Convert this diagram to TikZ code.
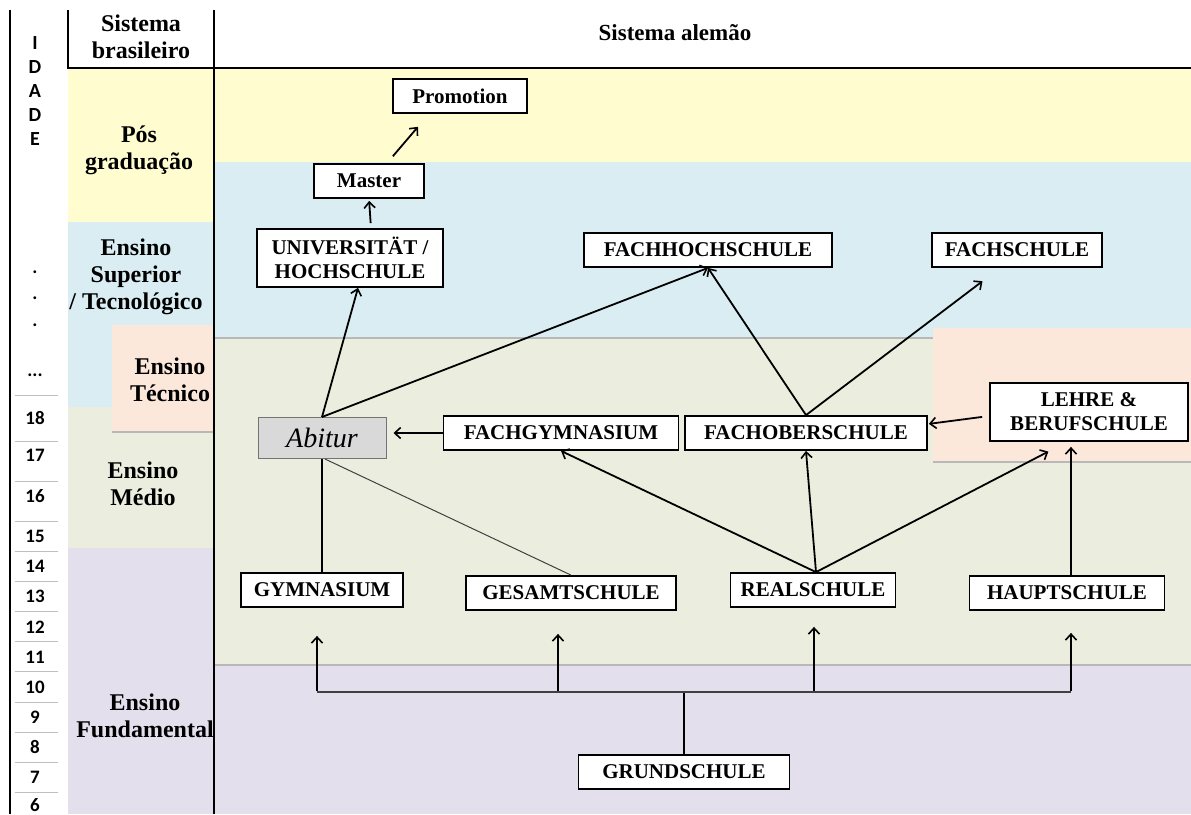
\documentclass[tikz,border=0pt]{standalone}
\usepackage{fontspec}
\setmainfont{Liberation Serif}
\newfontfamily\agefont{Carlito}
\usetikzlibrary{arrows.meta,calc}
\definecolor{cyel}{HTML}{FFFDD0}
\definecolor{cblu}{HTML}{DAEDF3}
\definecolor{cgrn}{HTML}{EBEEDE}
\definecolor{cpur}{HTML}{E4DFEC}
\definecolor{cpch}{HTML}{FCE8DA}
\definecolor{cabi}{HTML}{D9D9D9}
\tikzset{
  box/.style={draw=black, line width=1.8pt, fill=white, inner sep=0pt,
    minimum height=34pt, font=\fontsize{21}{24}\selectfont\bfseries, align=center},
  lbl/.style={inner sep=0pt, font=\fontsize{24}{27}\selectfont\bfseries, align=center},
  hlbl/.style={inner sep=0pt, font=\fontsize{23}{26}\selectfont\bfseries, align=center},
  agel/.style={inner sep=0pt, font=\agefont\bfseries\fontsize{19}{22}\selectfont},
  arr/.style={line width=1.8pt, -{Straight Barb[length=6pt,width=11pt,line width=1.6pt]}},
  link/.style={line width=1.8pt},
  thin/.style={line width=1pt, draw=black!75},
  shade/.style={line width=1.5pt, draw=black!28},
  sep/.style={line width=0.8pt, draw=black!25}
}
\begin{document}
\begin{tikzpicture}[x=1pt,y=-1pt]
\useasboundingbox (0,0) rectangle (1191,814);
% bands left column
\fill[cyel] (68,68) rectangle (214,222);
\fill[cblu] (68,222) rectangle (214,407);
\fill[cgrn] (68,407) rectangle (214,548);
\fill[cpur] (68,548) rectangle (214,814);
\fill[cpch] (112,325) rectangle (214,432);
\draw[shade] (112,432) -- (214,432);
% bands right part
\fill[cyel] (214,68) rectangle (1191,162);
\fill[cblu] (214,162) rectangle (1191,338);
\fill[cgrn] (214,338) rectangle (1191,665);
\fill[cpur] (214,665) rectangle (1191,814);
\draw[shade] (214,338) -- (933,338);
\draw[shade] (214,665) -- (1191,665);
\fill[cpch] (933,328) rectangle (1191,462);
\draw[shade] (933,462) -- (1191,462);
% frame lines
\draw[line width=1.5pt] (10,10) -- (10,814);
\draw[line width=2pt] (68,10) -- (68,68) -- (1191,68);
\draw[line width=2pt] (214,10) -- (214,814);
% headers
\node[lbl] (hbr) at (141,37) {Sistema\\brasileiro};
\node[hlbl] (hde) at (675,33) {Sistema alemão};
% age column
\foreach \t/\y in {I/43,D/67,A/91,D/115,E/139}
  \node[agel, font=\agefont\bfseries\fontsize{20}{22}\selectfont] at (35,\y) {\t};
\foreach \y in {272,298,325}
  \node[agel] at (35,\y) {.};
\node[agel] at (35,375) {...};
\foreach \y in {395,441,481,521,551,581,611,641,671,702,732,762,792}
  \draw[sep] (15,\y) -- (58,\y);
\foreach \t/\y in {18/418,17/455,16/496,15/536,14/566,13/596,12/627,11/657,10/687,9/717,8/747,7/777,6/805}
  \node[agel] at (35,\y) {\t};
% left labels
\node[lbl] (lpos) at (139,150) {Pós\\graduação};
\node[lbl] (lsup) at (136,277) {Ensino\\Superior\\/ Tecnológico};
\node[lbl] (ltec) at (170,380) {Ensino\\Técnico};
\node[lbl] (lmed) at (143,484) {Ensino\\Médio};
\node[lbl] (lfun) at (145,716) {Ensino\\Fundamental};
% boxes
\node[box, minimum width=134pt] (prom) at (460,96) {Promotion};
\node[box, minimum width=110pt] (mast) at (369,181) {Master};
\node[box, minimum width=186pt, minimum height=58pt] (univ) at (350,258) {UNIVERSITÄT /\\HOCHSCHULE};
\node[box, minimum width=248pt] (fhs) at (708,250) {FACHHOCHSCHULE};
\node[box, minimum width=170pt] (fs) at (1017,250) {FACHSCHULE};
\node[draw=black!55, line width=1pt, fill=cabi, minimum width=128pt, minimum height=41pt, inner sep=0pt,
  font=\fontsize{28}{30}\selectfont\itshape] (abi) at (322,438) {Abitur};
\node[box, minimum width=235pt] (fgy) at (561,433) {FACHGYMNASIUM};
\node[box, minimum width=242pt] (fos) at (806,433) {FACHOBERSCHULE};
\node[box, minimum width=198pt, minimum height=58pt] (lehre) at (1089,412) {LEHRE \&\\BERUFSCHULE};
\node[box, minimum width=162pt] (gym) at (322,590) {GYMNASIUM};
\node[box, minimum width=210pt] (ges) at (571,593) {GESAMTSCHULE};
\node[box, minimum width=165pt] (real) at (813,590) {REALSCHULE};
\node[box, minimum width=195pt] (haupt) at (1067,593) {HAUPTSCHULE};
\node[box, minimum width=211pt] (grund) at (684,772) {GRUNDSCHULE};
% connectors
\draw[arr, shorten <=9pt, shorten >=17pt] ($(mast.north)+(18,0)$) -- ($(prom.south)+(-31,0)$);
\draw[arr, shorten <=5pt, shorten >=2pt] ($(univ.north)+(21,0)$) -- ($(mast.south)+(0,0)$);
\draw[arr] (abi.north) -- ($(univ.south)+(8,0)$);
\draw[arr] (abi.north) -- (fhs.south);
\draw[arr] (fos.north) -- (fhs.south);
\draw[arr, shorten >=22pt] (fos.north) -- ($(fs.south)+(-17,0)$);
\draw[arr, shorten >=1pt, shorten <=7pt] ($(lehre.west)+(0,4)$) -- ($(fos.east)+(0,-9)$);
\draw[arr, shorten >=7pt] (fgy.west) -- (fgy.west -| abi.east);
\draw[arr] ($(real.north)+(3,0)$) -- (fgy.south);
\draw[arr] ($(real.north)+(3,0)$) -- (fos.south);
\draw[arr, shorten >=21pt] ($(real.north)+(3,0)$) -- ($(lehre.south)+(-22,0)$);
\draw[arr, shorten >=5pt] ($(haupt.north)+(4,0)$) -- ($(lehre.south)+(-18,0)$);
\draw[link] (abi.south) -- (gym.north);
\draw[thin] ($(abi.south)+(3,0)$) -- (ges.north);
% grundschule distribution
\coordinate (bar) at (684,692);
\coordinate (b1) at (317,692);
\coordinate (b2) at (558,692);
\coordinate (b3) at (814,692);
\coordinate (b4) at (1071,692);
\draw[link] (grund.north) -- (bar);
\draw[thin, line width=1.2pt] (b1) -- (b4);
\draw[arr, shorten <=1pt, shorten >=28pt] (b1) -- (b1 |- gym.south);
\draw[arr, shorten <=1pt, shorten >=23pt] (b2) -- (b2 |- ges.south);
\draw[arr, shorten <=1pt, shorten >=19pt] (b3) -- (b3 |- real.south);
\draw[arr, shorten <=1pt, shorten >=22pt] (b4) -- (b4 |- haupt.south);
\end{tikzpicture}
\end{document}
